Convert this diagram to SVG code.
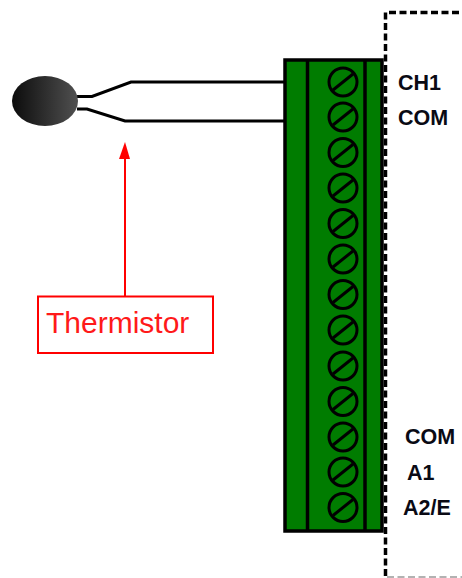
<svg xmlns="http://www.w3.org/2000/svg" width="462" height="578" viewBox="0 0 462 578">
<style>
.w{fill:none;stroke:#000;stroke-width:3}
.s{fill:none;stroke:#000;stroke-width:3}
.l{font-family:"Liberation Sans",Arial,sans-serif;font-weight:700;font-size:21.500px;fill:#0a0a14}
</style>
<defs>
<linearGradient id="g" x1="0" x2="1" y1="0" y2="0"><stop offset="0" stop-color="#0c0c0c"/><stop offset="1" stop-color="#505050"/></linearGradient>
<g id="screw"><circle r="14" class="s"/><path d="M-10 8L10-8" class="s"/></g>
</defs>
<rect width="462" height="578" fill="#fff"/>
<g id="connectors">
<path class="w" d="M77 96.500H92L131 82H285"/>
<path class="w" d="M77 109H87L125 121H285"/>
<path d="M125 296V156" fill="none" stroke="#f00" stroke-width="2"/>
<path d="M125 142L130 159H119Z" fill="#f00"/>
</g>
<g id="thermistor"><ellipse cx="45" cy="101" rx="33" ry="25" fill="url(#g)"/></g>
<g id="terminal-block">
<rect x="285" y="60" width="97" height="471" fill="#007c00" stroke="#000" stroke-width="3.500"/>
<path d="M307.500 60V531M365 60V531" stroke="#000" stroke-width="3.500"/>
<use href="#screw" x="343" y="82"/><use href="#screw" x="343" y="117"/><use href="#screw" x="343" y="152.500"/><use href="#screw" x="343" y="188"/><use href="#screw" x="343" y="223.500"/><use href="#screw" x="343" y="259"/><use href="#screw" x="343" y="294.500"/><use href="#screw" x="343" y="330"/><use href="#screw" x="343" y="366"/><use href="#screw" x="343" y="401.500"/><use href="#screw" x="343" y="437"/><use href="#screw" x="343" y="472"/><use href="#screw" x="343" y="507.500"/>
</g>
<g id="enclosure">
<path d="M385.500 576V12.500H462" fill="none" stroke="#000" stroke-width="3.500" stroke-dasharray="7 3.500"/>
<path d="M387 577H462" fill="none" stroke="#999" stroke-width="1.500" stroke-dasharray="7 3.500"/>
</g>
<g id="labels">
<text class="l" x="398" y="90">CH1</text>
<text class="l" x="398" y="125">COM</text>
<text class="l" x="405" y="444">COM</text>
<text class="l" x="407" y="480">A1</text>
<text class="l" x="403" y="515">A2/E</text>
</g>
<g id="thermistor-label">
<rect x="38" y="296.500" width="175" height="56.500" fill="#fff" stroke="#f00" stroke-width="2"/>
<text x="46" y="333" font-family="'Liberation Sans',Arial,sans-serif" font-size="30" fill="#ff1a1a">Thermistor</text>
</g>
</svg>
